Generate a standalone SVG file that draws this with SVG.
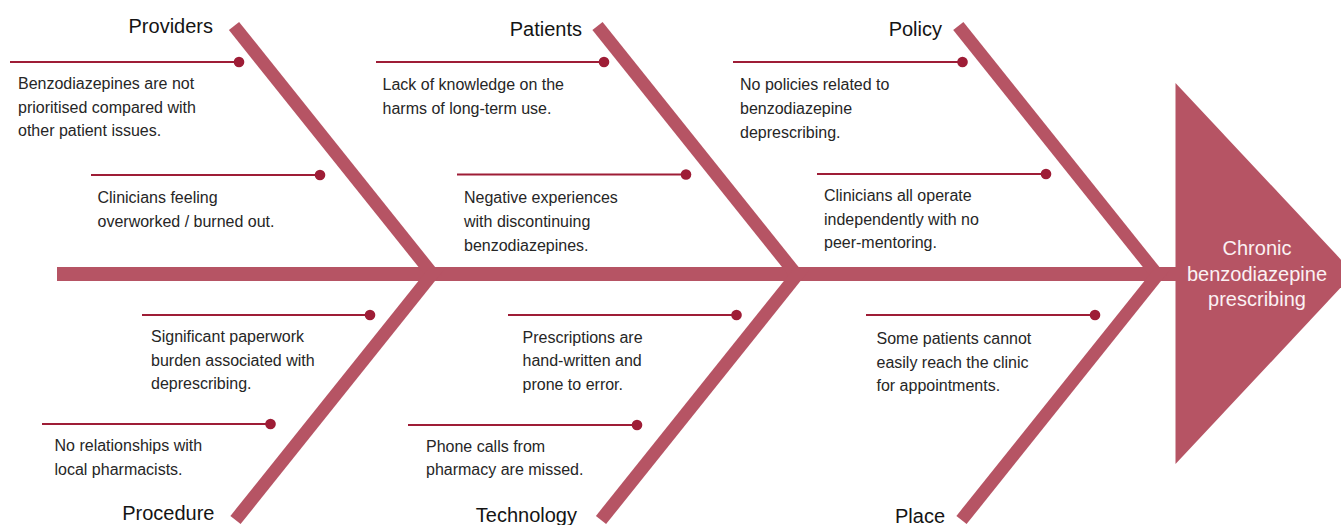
<svg xmlns="http://www.w3.org/2000/svg" width="1341" height="525" viewBox="0 0 1341 525">
  <defs>
    <style>
      .bone { fill: #b65464; }
      .leader { stroke: #9e1d36; stroke-width: 2; fill: none; }
      .dot { fill: #9e1d36; }
      .cat { font-family: "Liberation Sans", Arial, sans-serif; font-size: 20px; fill: #141414; }
      .cause { font-family: "Liberation Sans", Arial, sans-serif; font-size: 16px; fill: #262626; }
      .effect { font-family: "Liberation Sans", Arial, sans-serif; font-size: 20px; fill: #fbf1f3; text-anchor: middle; }
    </style>
  </defs>
  <rect width="1341" height="525" fill="#ffffff"/>

  <!-- skeleton: spine, effect head and the six category bones -->
  <g id="connectors">
    <rect class="bone" x="57" y="267" width="1125" height="14"/>
    <polygon class="bone" points="239.1,21.9 442.3,276 425.7,276 228.9,30.1"/>
    <polygon class="bone" points="602.6,21.9 805.8,276 789.2,276 592.4,30.1"/>
    <polygon class="bone" points="963.4,21.9 1166.6,276 1150,276 953.2,30.1"/>
    <polygon class="bone" points="240.6,524.1 443.8,270 427.2,270 230.4,515.9"/>
    <polygon class="bone" points="606.1,524.1 809.3,270 792.7,270 595.9,515.9"/>
    <polygon class="bone" points="966.6,524.1 1169.8,270 1153.2,270 956.4,515.9"/>
  </g>

  <g id="effect">
    <polygon class="bone" points="1175.5,83 1354,273.5 1175.5,464"/>
    <text class="effect" x="1257" y="255">Chronic</text>
    <text class="effect" x="1257" y="281">benzodiazepine</text>
    <text class="effect" x="1257" y="306">prescribing</text>
  </g>

  <!-- Providers -->
  <g id="providers">
    <text class="cat" x="213" y="33" text-anchor="end">Providers</text>
    <line class="leader" x1="10" y1="62" x2="239" y2="62"/>
    <circle class="dot" cx="239" cy="62" r="5.3"/>
    <text class="cause" x="18" y="89">
      <tspan x="18">Benzodiazepines are not</tspan>
      <tspan x="18" dy="23.7">prioritised compared with</tspan>
      <tspan x="18" dy="23.7">other patient issues.</tspan>
    </text>
    <line class="leader" x1="91" y1="175" x2="320" y2="175"/>
    <circle class="dot" cx="320" cy="175" r="5.3"/>
    <text class="cause" x="97.5" y="203">
      <tspan x="97.5">Clinicians feeling</tspan>
      <tspan x="97.5" dy="24">overworked / burned out.</tspan>
    </text>
  </g>

  <!-- Patients -->
  <g id="patients">
    <text class="cat" x="582" y="35.5" text-anchor="end">Patients</text>
    <line class="leader" x1="376" y1="62" x2="604" y2="62"/>
    <circle class="dot" cx="604" cy="62" r="5.3"/>
    <text class="cause" x="382.5" y="90">
      <tspan x="382.5">Lack of knowledge on the</tspan>
      <tspan x="382.5" dy="24">harms of long-term use.</tspan>
    </text>
    <line class="leader" x1="457" y1="174.5" x2="686" y2="174.5"/>
    <circle class="dot" cx="686" cy="174.5" r="5.3"/>
    <text class="cause" x="464" y="202.7">
      <tspan x="464">Negative experiences</tspan>
      <tspan x="464" dy="24">with discontinuing</tspan>
      <tspan x="464" dy="24">benzodiazepines.</tspan>
    </text>
  </g>

  <!-- Policy -->
  <g id="policy">
    <text class="cat" x="942" y="36" text-anchor="end">Policy</text>
    <line class="leader" x1="733" y1="62" x2="962.5" y2="62"/>
    <circle class="dot" cx="962.5" cy="62" r="5.3"/>
    <text class="cause" x="740" y="90">
      <tspan x="740">No policies related to</tspan>
      <tspan x="740" dy="24">benzodiazepine</tspan>
      <tspan x="740" dy="24">deprescribing.</tspan>
    </text>
    <line class="leader" x1="817" y1="174" x2="1046" y2="174"/>
    <circle class="dot" cx="1046" cy="174" r="5.3"/>
    <text class="cause" x="824" y="201">
      <tspan x="824">Clinicians all operate</tspan>
      <tspan x="824" dy="23.7">independently with no</tspan>
      <tspan x="824" dy="23.7">peer-mentoring.</tspan>
    </text>
  </g>

  <!-- Procedure -->
  <g id="procedure">
    <text class="cat" x="214.5" y="520" text-anchor="end">Procedure</text>
    <line class="leader" x1="142" y1="315" x2="370" y2="315"/>
    <circle class="dot" cx="370" cy="315" r="5.3"/>
    <text class="cause" x="151" y="341.7">
      <tspan x="151">Significant paperwork</tspan>
      <tspan x="151" dy="23.8">burden associated with</tspan>
      <tspan x="151" dy="23.8">deprescribing.</tspan>
    </text>
    <line class="leader" x1="42" y1="424" x2="270.5" y2="424"/>
    <circle class="dot" cx="270.5" cy="424" r="5.3"/>
    <text class="cause" x="54.5" y="451">
      <tspan x="54.5">No relationships with</tspan>
      <tspan x="54.5" dy="23.5">local pharmacists.</tspan>
    </text>
  </g>

  <!-- Technology -->
  <g id="technology">
    <text class="cat" x="577" y="522" text-anchor="end">Technology</text>
    <line class="leader" x1="508" y1="315" x2="736.5" y2="315"/>
    <circle class="dot" cx="736.5" cy="315" r="5.3"/>
    <text class="cause" x="522.5" y="342.7">
      <tspan x="522.5">Prescriptions are</tspan>
      <tspan x="522.5" dy="23.7">hand-written and</tspan>
      <tspan x="522.5" dy="23.7">prone to error.</tspan>
    </text>
    <line class="leader" x1="408" y1="425" x2="637" y2="425"/>
    <circle class="dot" cx="637" cy="425" r="5.3"/>
    <text class="cause" x="426" y="451.7">
      <tspan x="426">Phone calls from</tspan>
      <tspan x="426" dy="23.5">pharmacy are missed.</tspan>
    </text>
  </g>

  <!-- Place -->
  <g id="place">
    <text class="cat" x="945" y="522.5" text-anchor="end">Place</text>
    <line class="leader" x1="866" y1="315" x2="1095" y2="315"/>
    <circle class="dot" cx="1095" cy="315" r="5.3"/>
    <text class="cause" x="876.5" y="344">
      <tspan x="876.5">Some patients cannot</tspan>
      <tspan x="876.5" dy="23.5">easily reach the clinic</tspan>
      <tspan x="876.5" dy="23.5">for appointments.</tspan>
    </text>
  </g>
</svg>
